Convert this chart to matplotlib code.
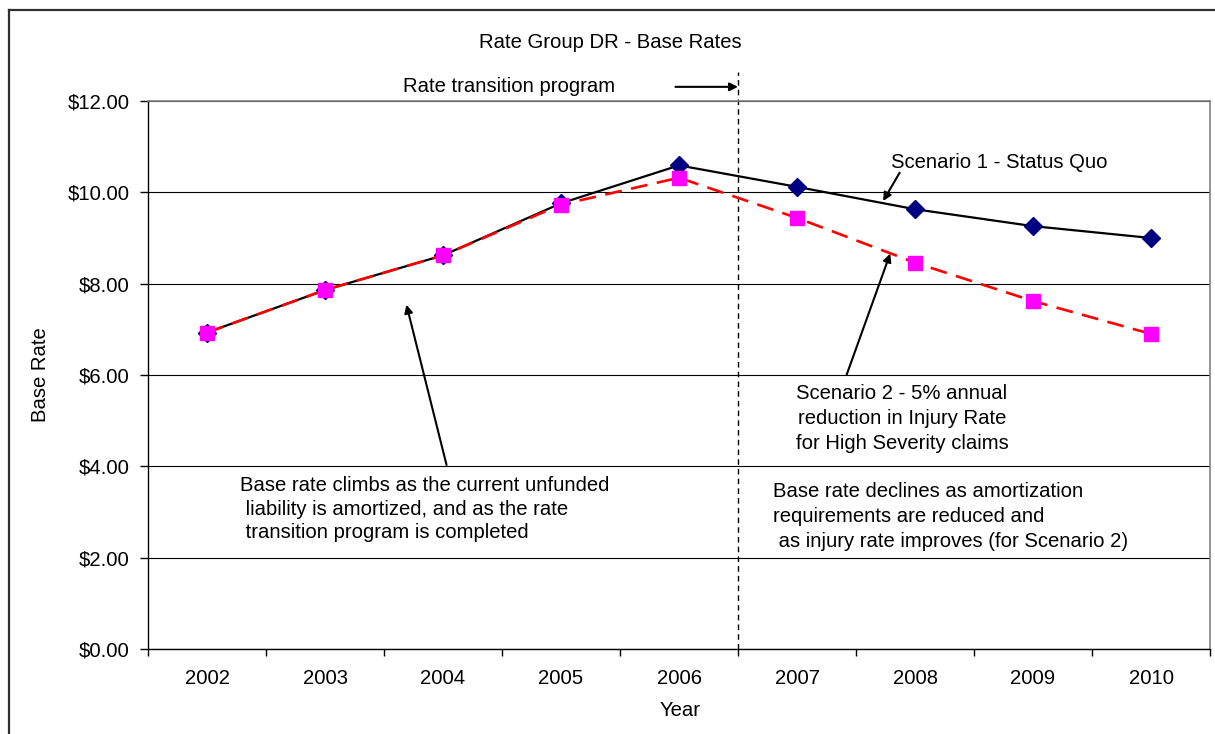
import numpy as np
import matplotlib
matplotlib.use("Agg")
import matplotlib.pyplot as plt
from matplotlib.lines import Line2D
from matplotlib.ticker import FuncFormatter

plt.rcParams['font.family'] = ['Liberation Sans', 'DejaVu Sans']

# data
years = ["2002", "2003", "2004", "2005", "2006", "2007", "2008", "2009", "2010"]
scenario1 = [6.93, 7.86, 8.62, 9.76, 10.59, 10.12, 9.63, 9.26, 9.00]
scenario2 = [6.93, 7.86, 8.62, 9.73, 10.32, 9.44, 8.46, 7.62, 6.90]
y_ticks = [0, 2, 4, 6, 8, 10, 12]
last_transition_year = "2006"

FS = 14.6
W, H = 1215, 734

fig = plt.figure(figsize=(W / 100, H / 100), dpi=100)
fig.patch.set_facecolor("white")

# outer chart frame (left and top edges only visible)
fig.add_artist(Line2D([9 / W, 9 / W], [0, 1 - 10 / H], color="#303030", lw=1.6))
fig.add_artist(Line2D([9 / W, 1], [1 - 10 / H, 1 - 10 / H], color="#303030", lw=1.6))

ax = fig.add_axes([148 / W, 1 - 649 / H, (1210 - 148) / W, (649 - 101) / H])
x = np.arange(len(years))

ax.set_axisbelow(True)
ax.yaxis.grid(True, color="black", lw=0.8)

ax.plot(x, scenario1, color="black", lw=1.6, marker="D", ms=9,
        mfc="#000080", mec="#000080", zorder=3, clip_on=False)
ax.plot(x, scenario2, color="#ff0000", lw=1.9, ls=(0, (6.4, 3.6)), marker="s", ms=9.5,
        mfc="#ff00ff", mec="#ff00ff", zorder=4, clip_on=False)

ax.set_xlim(-0.5, len(years) - 0.5)
ax.set_ylim(0, 12)
ax.set_xticks(x)
ax.set_xticklabels(years, fontsize=FS)
ax.set_xticks(np.arange(len(years) + 1) - 0.5, minor=True)
ax.tick_params(axis="x", which="major", length=0, pad=14.5)
ax.tick_params(axis="x", which="minor", length=5, width=1, direction="out")
ax.set_yticks(y_ticks)
ax.yaxis.set_major_formatter(FuncFormatter(lambda v, p: f"${v:.2f}"))
ax.tick_params(axis="y", length=6, width=1, labelsize=FS, pad=7)

for s in ["left", "bottom"]:
    ax.spines[s].set_color("black")
    ax.spines[s].set_linewidth(1.0)
for s in ["top", "right"]:
    ax.spines[s].set_color("#808080")
    ax.spines[s].set_linewidth(1.2)

# transition marker between 2006 and 2007
xt = years.index(last_transition_year) + 0.5
ax.plot([xt, xt], [0, 12.63], color="black", lw=1.0, ls=(0, (4, 3)), clip_on=False, zorder=2)

arrow = dict(arrowstyle="-|>", color="black", lw=1.5, mutation_scale=12, shrinkA=0, shrinkB=0)

ax.text(1.66, 12.31, "Rate transition program", fontsize=FS, ha="left", va="center")
ax.annotate("", xy=(xt, 12.31), xytext=(3.97, 12.31), arrowprops=arrow, annotation_clip=False)

ax.text(6.71, 10.66, "Scenario 1 - Status Quo", fontsize=FS, ha="center", va="center")
ax.annotate("", xy=(5.73, 9.81), xytext=(5.87, 10.43), arrowprops=arrow)

ax.text(5.89, 5.05, "Scenario 2 - 5% annual\nreduction in Injury Rate\nfor High Severity claims",
        fontsize=FS, ha="center", va="center", multialignment="center", linespacing=1.38)
ax.annotate("", xy=(5.79, 8.66), xytext=(5.42, 6.0), arrowprops=arrow)

ax.text(0.28, 3.06, "Base rate climbs as the current unfunded\n liability is amortized, and as the rate\n transition program is completed",
        fontsize=FS, ha="left", va="center", linespacing=1.3)
ax.annotate("", xy=(1.69, 7.54), xytext=(2.03, 4.03), arrowprops=arrow)

ax.text(4.80, 2.91, "Base rate declines as amortization\nrequirements are reduced and\n as injury rate improves (for Scenario 2)",
        fontsize=FS, ha="left", va="center", linespacing=1.4)

fig.text(610 / W, 1 - 43 / H, "Rate Group DR - Base Rates", fontsize=FS, ha="center", va="center")
fig.text(40 / W, 1 - 375 / H, "Base Rate", fontsize=FS, rotation=90, ha="center", va="center")
fig.text(680 / W, 1 - 710 / H, "Year", fontsize=FS, ha="center", va="center")

fig.savefig("out.png", dpi=100)
